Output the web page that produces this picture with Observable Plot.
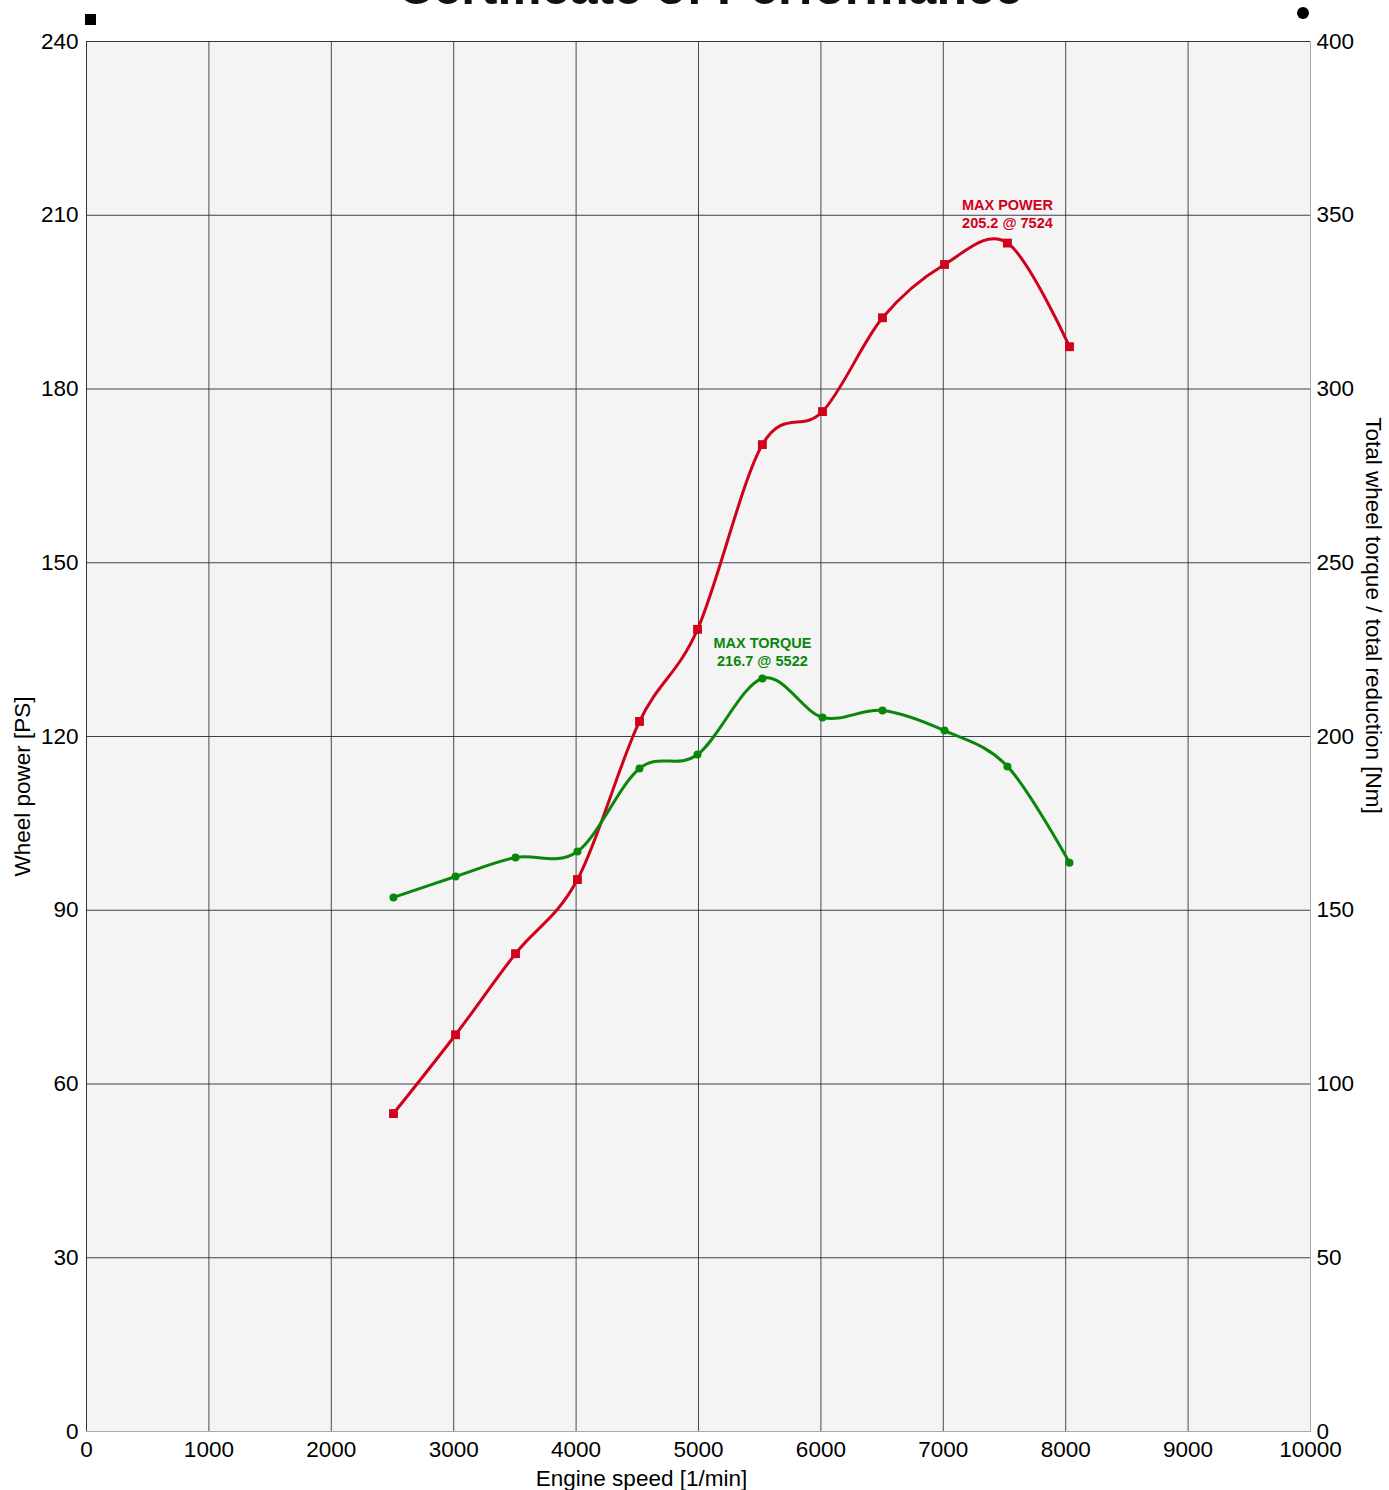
<!DOCTYPE html>
<html>
<head>
<meta charset="utf-8">
<script src="https://cdn.jsdelivr.net/npm/d3@7"></script>
<script src="https://cdn.jsdelivr.net/npm/@observablehq/plot@0.6"></script>
<style>
  html, body { margin: 0; padding: 0; background: #ffffff; }
  #wrap { position: relative; width: 1389px; height: 1490px; overflow: hidden; font-family: "Liberation Sans", Arial, sans-serif; }
  #title { position: absolute; top: -38px; left: 0; width: 1420px; text-align: center; font-size: 50px; font-weight: bold; line-height: 50px; color: #111; white-space: nowrap; }
  .leg { position: absolute; background: #000; }
  #chart { position: absolute; top: 0; left: 0; }
</style>
</head>
<body>
<div id="wrap">
  <div id="title">Certificate of Performance</div>
  <div class="leg" style="left:85px;top:14px;width:11px;height:11px;"></div>
  <div class="leg" style="left:1297px;top:7px;width:12px;height:12px;border-radius:50%;"></div>
  <div id="chart"></div>
</div>
<script>
// Engine speed [1/min]
const rpm = [2508, 3015, 3505, 4011, 4518, 4992, 5522, 6013, 6503, 7010, 7524, 8031];
// Wheel power [PS]
const power = [54.9, 68.5, 82.5, 95.3, 122.6, 138.5, 170.4, 176.1, 192.3, 201.5, 205.2, 187.3];
// Total wheel torque / total reduction [Nm]
const torque = [153.7, 159.7, 165.2, 166.9, 190.8, 194.8, 216.7, 205.5, 207.5, 201.7, 191.4, 163.7];

const xTicks = [0, 1000, 2000, 3000, 4000, 5000, 6000, 7000, 8000, 9000, 10000];
const powerTicks = [0, 30, 60, 90, 120, 150, 180, 210, 240];
const torqueTicks = [0, 50, 100, 150, 200, 250, 300, 350, 400];

const powerMax = 240, torqueMax = 400;
const k = powerMax / torqueMax;

const red = "#d0021b";
const green = "#0a870a";

const powerData = rpm.map((r, i) => ({rpm: r, v: power[i]}));
const torqueData = rpm.map((r, i) => ({rpm: r, v: torque[i] * k, raw: torque[i]}));

const maxP = powerData.reduce((a, b) => (b.v > a.v ? b : a));
const maxT = torqueData.reduce((a, b) => (b.raw > a.raw ? b : a));

const fs = 22.5;

const chart = Plot.plot({
  width: 1389,
  height: 1490,
  marginTop: 41,
  marginBottom: 59,
  marginLeft: 86,
  marginRight: 79,
  style: {fontFamily: "'Liberation Sans', Arial, sans-serif", fontSize: fs + "px", color: "#000", background: "transparent"},
  x: {domain: [0, 10000]},
  y: {domain: [0, powerMax]},
  marks: [
    Plot.frame({fill: "#f4f4f4", stroke: null}),
    Plot.gridX(xTicks, {stroke: "#3a3a3a", strokeOpacity: 0.9, strokeWidth: 1}),
    Plot.gridY(powerTicks, {stroke: "#2a2a40", strokeOpacity: 0.9, strokeWidth: 1}),
    Plot.frame({stroke: "#aaaaaa", strokeWidth: 1, fill: null}),
    Plot.ruleX([0], {stroke: "#333"}),
    Plot.ruleY([powerMax], {stroke: "#333"}),
    Plot.axisX(xTicks, {tickSize: 0, tickPadding: 10, fontSize: fs, label: null, tickFormat: d => String(d)}),
    Plot.axisY(powerTicks, {anchor: "left", tickSize: 0, tickPadding: 8, fontSize: fs, label: null}),
    Plot.axisY(torqueTicks.map(t => t * k), {anchor: "right", tickSize: 0, tickPadding: 6, fontSize: fs, label: null, tickFormat: d => String(Math.round(d / k))}),
    Plot.text(["Engine speed [1/min]"], {frameAnchor: "bottom", textAnchor: "middle", dy: 54, dx: -57, fontSize: fs}),
    Plot.text(["Wheel power [PS]"], {frameAnchor: "left", textAnchor: "middle", dx: -64, dy: 50, rotate: -90, fontSize: fs}),
    Plot.text(["Total wheel torque / total reduction [Nm]"], {frameAnchor: "right", textAnchor: "middle", dx: 63, dy: -121, rotate: 90, fontSize: fs}),
    Plot.line(powerData, {x: "rpm", y: "v", stroke: red, strokeWidth: 3, curve: "cardinal"}),
    Plot.dot(powerData, {x: "rpm", y: "v", symbol: "square", r: 5, fill: red, stroke: null}),
    Plot.line(torqueData, {x: "rpm", y: "v", stroke: green, strokeWidth: 3, curve: "cardinal"}),
    Plot.dot(torqueData, {x: "rpm", y: "v", r: 4, fill: green, stroke: null}),
    Plot.text([maxP], {x: "rpm", y: "v", text: d => `MAX POWER\n${d.v.toFixed(1)} @ ${d.rpm}`, fill: red, fontWeight: "bold", fontSize: 14.5, dy: -30, lineHeight: 1.25}),
    Plot.text([maxT], {x: "rpm", y: "v", text: d => `MAX TORQUE\n${d.raw.toFixed(1)} @ ${d.rpm}`, fill: green, fontWeight: "bold", fontSize: 14.5, dy: -27, lineHeight: 1.25})
  ]
});
document.getElementById("chart").appendChild(chart);
</script>
</body>
</html>
